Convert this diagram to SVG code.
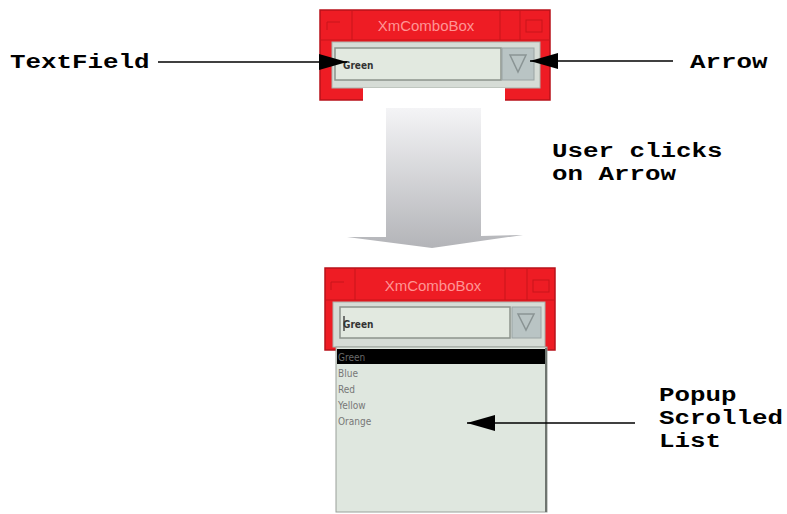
<svg xmlns="http://www.w3.org/2000/svg" width="787" height="514" viewBox="0 0 787 514">
<style>
.lbl{font-family:"Liberation Mono","Courier New",monospace;font-weight:bold;font-size:20px;fill:#000}
.frame{fill:#ee1c24;stroke:#b8121a;stroke-width:1.5}
.sep{stroke:#c8141a;stroke-width:1}
.title{font-family:"Liberation Sans",Arial,sans-serif;font-size:15px;fill:#ff9494}
.panel{fill:#d6dcd6;stroke:#a9b0a9;stroke-width:1}
.field{fill:#e2e9e0;stroke:#8c938c;stroke-width:1.5}
.btn{fill:#b9c4c4;stroke:#9aa4a4;stroke-width:1}
.item{font-family:"DejaVu Sans Condensed","Liberation Sans",sans-serif;font-size:10px;fill:#777}
.ftxt{font-family:"DejaVu Sans Condensed","Liberation Sans",sans-serif;font-size:10px;font-weight:bold;fill:#333}
.conn{stroke:#000;stroke-width:1.6;fill:none}
</style>
<defs>
<linearGradient id="g" x1="0" y1="0" x2="0" y2="1">
<stop offset="0" stop-color="#f4f4f6"/>
<stop offset="1" stop-color="#b3b4b8"/>
</linearGradient>
<marker id="ah" markerUnits="userSpaceOnUse" markerWidth="30" markerHeight="18" refX="28" refY="8" orient="auto">
<path d="M0,0 L28,8 L0,16 Z" fill="#000"/>
</marker>
</defs>
<rect width="787" height="514" fill="#fff"/>

<g id="combo-top">
<rect class="frame" x="320" y="10" width="230" height="90"/>
<line class="sep" x1="321" y1="40" x2="549" y2="40"/>
<line class="sep" x1="352" y1="11" x2="352" y2="40"/>
<line class="sep" x1="500" y1="11" x2="500" y2="40"/>
<line class="sep" x1="520" y1="11" x2="520" y2="40"/>
<path d="M327,30 V22 H340" stroke="#c8141a" fill="none"/>
<rect x="526" y="20" width="16" height="12" fill="none" stroke="#c8141a"/>
<text class="title" x="426" y="31" text-anchor="middle">XmComboBox</text>
<rect class="panel" x="332" y="42" width="208" height="46"/>
<rect class="field" x="335" y="48" width="166" height="32"/>
<rect class="btn" x="502" y="48" width="32" height="32"/>
<path d="M510,55 L526,55 L518,72 Z" fill="none" stroke="#8a9494" stroke-width="1.5"/>
<text class="ftxt" x="343" y="69">Green</text>
<rect x="363" y="88" width="142" height="14" fill="#fff"/>
</g>

<g id="big-arrow">
<polygon points="386,108 481,108 481,236 523,235 432,248 347,237 386,237" fill="url(#g)"/>
</g>

<g id="combo-bottom">
<rect class="frame" x="325" y="268" width="230" height="82"/>
<line class="sep" x1="326" y1="300" x2="554" y2="300"/>
<line class="sep" x1="355" y1="269" x2="355" y2="300"/>
<line class="sep" x1="505" y1="269" x2="505" y2="300"/>
<line class="sep" x1="527" y1="269" x2="527" y2="300"/>
<path d="M331,290 V282 H344" stroke="#c8141a" fill="none"/>
<rect x="533" y="280" width="16" height="12" fill="none" stroke="#c8141a"/>
<text class="title" x="433" y="291" text-anchor="middle">XmComboBox</text>
<rect class="panel" x="333" y="302" width="212" height="45"/>
<rect class="field" x="340" y="307" width="170" height="31"/>
<rect class="btn" x="512" y="307" width="29" height="31"/>
<path d="M518,314 L534,314 L526,330 Z" fill="none" stroke="#8a9494" stroke-width="1.5"/>
<line x1="344" y1="316" x2="344" y2="331" stroke="#222" stroke-width="1.2"/>
<text class="ftxt" x="343" y="328">Green</text>
</g>

<g id="popup-list">
<rect x="336" y="347" width="211" height="165" fill="#dfe7df" stroke="#9aa09a" stroke-width="1"/>
<line x1="546" y1="348" x2="546" y2="512" stroke="#6f7570" stroke-width="2"/>
<rect x="337" y="349" width="208" height="15" fill="#000"/>
<text class="item" x="338" y="361" style="fill:#6a6a6a">Green</text>
<text class="item" x="338" y="377">Blue</text>
<text class="item" x="338" y="393">Red</text>
<text class="item" x="338" y="409">Yellow</text>
<text class="item" x="338" y="425">Orange</text>
</g>

<g id="label-textfield"><text class="lbl" x="10" y="68" textLength="139.5" lengthAdjust="spacingAndGlyphs">TextField</text></g>
<g id="label-arrow"><text class="lbl" x="690" y="68" textLength="77.5" lengthAdjust="spacingAndGlyphs">Arrow</text></g>
<g id="label-user"><text class="lbl" x="552" y="157" textLength="170.5" lengthAdjust="spacingAndGlyphs">User clicks</text><text class="lbl" x="552" y="180" textLength="124" lengthAdjust="spacingAndGlyphs">on Arrow</text></g>
<g id="label-popup"><text class="lbl" x="659" y="401" textLength="77.5" lengthAdjust="spacingAndGlyphs">Popup</text><text class="lbl" x="659" y="424" textLength="124" lengthAdjust="spacingAndGlyphs">Scrolled</text><text class="lbl" x="659" y="447" textLength="62" lengthAdjust="spacingAndGlyphs">List</text></g>

<g id="connectors">
<line class="conn" x1="158" y1="62" x2="347" y2="62" marker-end="url(#ah)"/>
<line class="conn" x1="673" y1="61" x2="530" y2="61" marker-end="url(#ah)"/>
<line class="conn" x1="635" y1="423" x2="467" y2="423" marker-end="url(#ah)"/>
</g>
</svg>
